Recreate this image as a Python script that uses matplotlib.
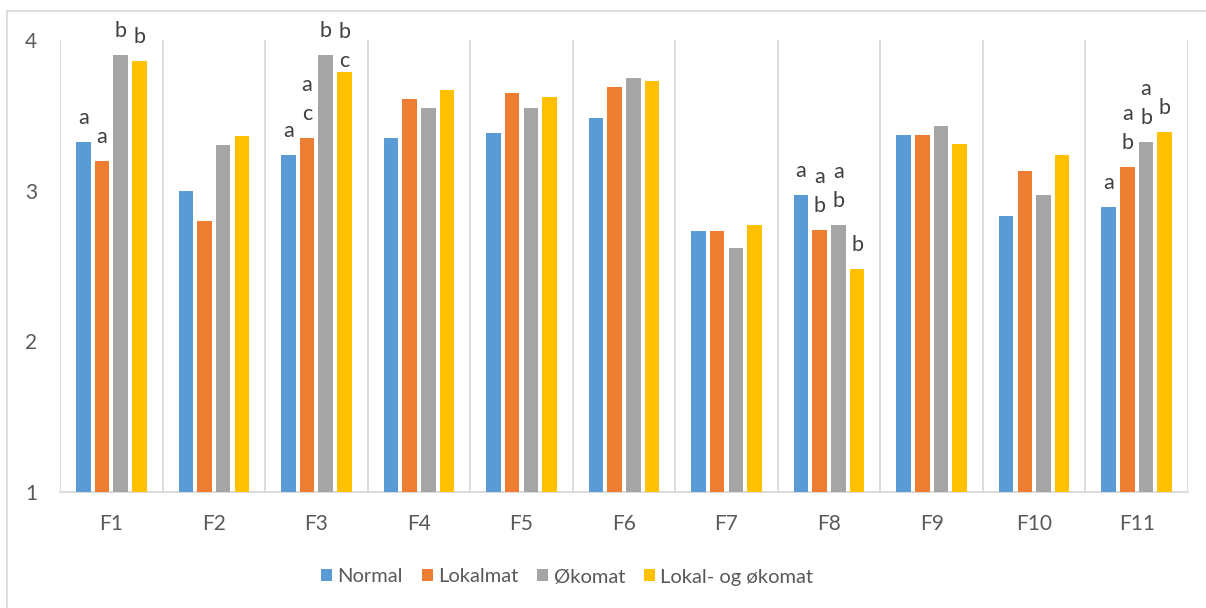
import numpy as np
import matplotlib
matplotlib.use("Agg")
import matplotlib.pyplot as plt
from matplotlib.lines import Line2D

plt.rcParams["font.family"] = ["Lato", "DejaVu Sans"]

categories = ["F1", "F2", "F3", "F4", "F5", "F6", "F7", "F8", "F9", "F10", "F11"]
series_names = ["Normal", "Lokalmat", "Økomat", "Lokal- og økomat"]

normal   = [3.32, 3.00, 3.24, 3.35, 3.38, 3.48, 2.73, 2.97, 3.37, 2.83, 2.89]
lokalmat = [3.20, 2.80, 3.35, 3.61, 3.65, 3.69, 2.73, 2.74, 3.37, 3.13, 3.16]
okomat   = [3.90, 3.30, 3.90, 3.55, 3.55, 3.75, 2.62, 2.77, 3.43, 2.97, 3.32]
lokal_og_okomat = [3.86, 3.36, 3.79, 3.67, 3.62, 3.73, 2.77, 2.48, 3.31, 3.24, 3.39]

y_ticks = [1, 2, 3, 4]

# significance letters per (category, series index), listed bottom to top
letters = {
    ("F1", 0): ["a"], ("F1", 1): ["a"], ("F1", 2): ["b"], ("F1", 3): ["b"],
    ("F3", 0): ["a"], ("F3", 1): ["c", "a"], ("F3", 2): ["b"], ("F3", 3): ["c", "b"],
    ("F8", 0): ["a"], ("F8", 1): ["b", "a"], ("F8", 2): ["b", "a"], ("F8", 3): ["b"],
    ("F11", 0): ["a"], ("F11", 1): ["b", "a"], ("F11", 2): ["b", "a"], ("F11", 3): ["b"],
}

colors = ["#5B9BD5", "#ED7D31", "#A5A5A5", "#FFC000"]
series = [normal, lokalmat, okomat, lokal_og_okomat]

W, H, DPI = 1206, 608, 100
fig = plt.figure(figsize=(W / DPI, H / DPI), dpi=DPI)
ax = fig.add_axes([60 / W, 1 - 492 / H, (1188 - 60) / W, (492 - 40) / H])

x = np.arange(len(categories))
slot = 0.182
bar_w = 0.142
for i, (vals, col, name) in enumerate(zip(series, colors, series_names)):
    pos = x + (i - 1.5) * slot
    ax.bar(pos, np.array(vals) - 1, bottom=1, width=bar_w, color=col,
           label=name, zorder=3)

# letters above bars (offsets in points)
px = 72 / DPI
base_off = 18 * px
line_step = 29 * px
for ci, cat in enumerate(categories):
    for si in range(4):
        key = (cat, si)
        if key not in letters:
            continue
        start = 5 * px if key == ("F3", 3) else base_off
        xpos = ci + (si - 1.5) * slot
        top = series[si][ci]
        for k, letter in enumerate(letters[key]):
            ax.annotate(letter, (xpos, top), xytext=(0, start + k * line_step),
                        textcoords="offset points", ha="center", va="baseline",
                        fontsize=15.5, color="#404040", zorder=4,
                        annotation_clip=False)

ax.set_xlim(-0.5, len(categories) - 0.5)
ax.set_ylim(1, 4)
ax.set_yticks(y_ticks)
ax.set_yticklabels([str(t) for t in y_ticks])
ax.set_xticks(x)
ax.set_xticklabels(categories)
ax.tick_params(axis="both", length=0, labelsize=15, labelcolor="#595959")
ax.tick_params(axis="y", pad=16.5)
ax.tick_params(axis="x", pad=16)

# vertical separators between categories
for b in np.arange(-0.5, len(categories), 1.0):
    ax.axvline(b, color="#D9D9D9", lw=1.3, zorder=1)

for s in ["top", "right", "left"]:
    ax.spines[s].set_visible(False)
ax.spines["bottom"].set_color("#D9D9D9")
ax.spines["bottom"].set_linewidth(1.3)

leg = fig.legend(loc="center", bbox_to_anchor=(567 / W, 1 - 577 / H), ncol=4,
                 frameon=False, fontsize=14.5, handlelength=0.55, handleheight=0.55,
                 handletextpad=0.26, columnspacing=0.95, borderaxespad=0)
for t in leg.get_texts():
    t.set_color("#595959")

# outer chart frame
fig.add_artist(Line2D([7 / W, 7 / W], [0, 1 - 11 / H], transform=fig.transFigure,
                      color="#D9D9D9", lw=1.2))
fig.add_artist(Line2D([7 / W, 1], [1 - 11 / H, 1 - 11 / H], transform=fig.transFigure,
                      color="#D9D9D9", lw=1.2))

fig.savefig("out.png", dpi=DPI, facecolor="white")
